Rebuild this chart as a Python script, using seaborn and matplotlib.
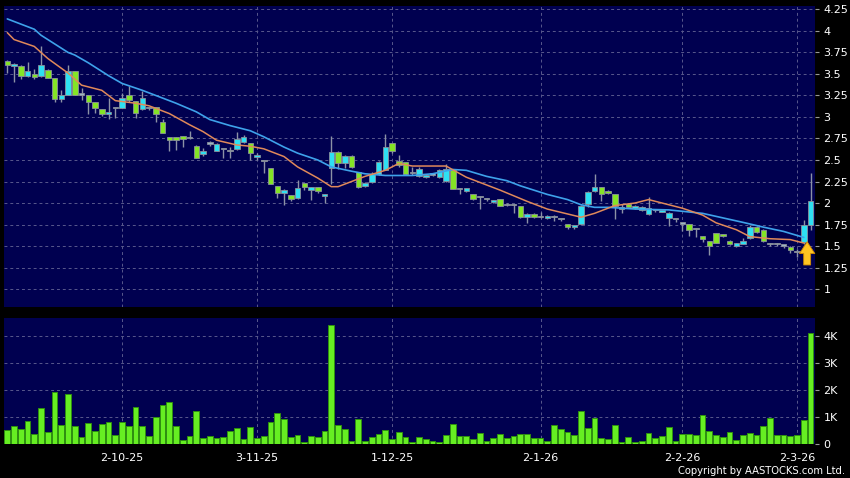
import numpy as np
import pandas as pd
import seaborn as sns
import matplotlib
matplotlib.use('Agg')
from matplotlib import pyplot as plt

# daily candles, oldest first (price in HKD, volume in thousands)
opens = [3.65, 3.59, 3.59, 3.48, 3.50, 3.475, 3.55, 3.45, 3.21, 3.26,
         3.53, 3.26, 3.26, 3.17, 3.09, 3.03, 3.10, 3.10, 3.25, 3.19,
         3.09, 3.10, 3.12, 2.94, 2.765, 2.765, 2.777, 2.75, 2.664, 2.575,
         2.69, 2.606, 2.625, 2.606, 2.625, 2.71, 2.70, 2.53, 2.49, 2.405,
         2.20, 2.12, 2.09, 2.06, 2.23, 2.15, 2.185, 2.08, 2.405, 2.59,
         2.46, 2.55, 2.36, 2.20, 2.24, 2.34, 2.386, 2.695, 2.49, 2.48,
         2.35, 2.31, 2.30, 2.33, 2.30, 2.26, 2.385, 2.165, 2.14, 2.10,
         2.065, 2.045, 2.01, 2.05, 1.98, 1.98, 1.97, 1.837, 1.875, 1.84,
         1.83, 1.84, 1.81, 1.755, 1.72, 1.76, 1.99, 2.14, 2.19, 2.14,
         2.10, 1.93, 1.99, 1.94, 1.92, 1.87, 1.92, 1.90, 1.825, 1.81,
         1.76, 1.755, 1.70, 1.617, 1.56, 1.65, 1.64, 1.56, 1.50, 1.525,
         1.59, 1.72, 1.69, 1.52, 1.52, 1.505, 1.49, 1.43, 1.545, 1.75]
closes = [3.61, 3.62, 3.48, 3.53, 3.47, 3.60, 3.45, 3.21, 3.26, 3.53,
          3.26, 3.26, 3.17, 3.11, 3.03, 3.055, 3.10, 3.22, 3.20, 3.05,
          3.22, 3.10, 3.03, 2.81, 2.73, 2.73, 2.742, 2.75, 2.525, 2.60,
          2.69, 2.687, 2.625, 2.606, 2.74, 2.765, 2.58, 2.555, 2.49, 2.22,
          2.12, 2.15, 2.045, 2.174, 2.185, 2.185, 2.135, 2.10, 2.59, 2.46,
          2.55, 2.415, 2.19, 2.23, 2.34, 2.48, 2.656, 2.60, 2.44, 2.34,
          2.35, 2.40, 2.33, 2.33, 2.38, 2.40, 2.165, 2.165, 2.17, 2.045,
          2.065, 2.045, 2.03, 1.97, 1.98, 1.98, 1.837, 1.875, 1.837, 1.84,
          1.855, 1.84, 1.81, 1.725, 1.74, 1.97, 2.13, 2.19, 2.11, 2.12,
          1.96, 1.95, 1.955, 1.97, 1.95, 1.94, 1.92, 1.915, 1.88, 1.81,
          1.76, 1.69, 1.70, 1.58, 1.495, 1.54, 1.616, 1.525, 1.535, 1.56,
          1.72, 1.66, 1.56, 1.52, 1.52, 1.505, 1.455, 1.43, 1.75, 2.025]
highs = [3.66, 3.63, 3.60, 3.64, 3.56, 3.82, 3.56, 3.45, 3.31, 3.60,
         3.54, 3.34, 3.26, 3.17, 3.09, 3.22, 3.10, 3.28, 3.36, 3.19,
         3.30, 3.12, 3.12, 2.98, 2.77, 2.77, 2.78, 2.84, 2.67, 2.64,
         2.72, 2.70, 2.63, 2.65, 2.82, 2.79, 2.70, 2.58, 2.49, 2.41,
         2.20, 2.16, 2.09, 2.27, 2.23, 2.19, 2.19, 2.10, 2.78, 2.60,
         2.56, 2.56, 2.36, 2.24, 2.36, 2.49, 2.80, 2.70, 2.56, 2.48,
         2.42, 2.42, 2.34, 2.35, 2.39, 2.45, 2.39, 2.18, 2.18, 2.11,
         2.08, 2.06, 2.04, 2.05, 2.00, 1.99, 1.97, 1.88, 1.88, 1.90,
         1.86, 1.86, 1.82, 1.76, 1.75, 1.98, 2.14, 2.34, 2.19, 2.15,
         2.10, 1.99, 2.00, 1.98, 1.96, 2.07, 1.93, 1.92, 1.89, 1.82,
         1.77, 1.76, 1.71, 1.62, 1.56, 1.65, 1.64, 1.57, 1.54, 1.59,
         1.75, 1.73, 1.70, 1.53, 1.53, 1.51, 1.50, 1.46, 1.80, 2.35]
lows = [3.51, 3.41, 3.445, 3.47, 3.445, 3.47, 3.45, 3.18, 3.17, 3.26,
        3.26, 3.20, 3.04, 3.05, 3.01, 2.98, 2.99, 3.10, 3.18, 2.985,
        3.08, 3.08, 2.94, 2.81, 2.60, 2.62, 2.65, 2.74, 2.52, 2.55,
        2.66, 2.60, 2.52, 2.52, 2.62, 2.70, 2.50, 2.50, 2.35, 2.22,
        2.06, 1.98, 2.02, 2.05, 2.15, 2.03, 2.12, 2.00, 2.22, 2.40,
        2.41, 2.41, 2.18, 2.19, 2.23, 2.33, 2.38, 2.58, 2.42, 2.33,
        2.33, 2.30, 2.29, 2.31, 2.29, 2.25, 2.16, 2.10, 2.13, 2.04,
        1.93, 2.02, 2.00, 1.96, 1.96, 1.88, 1.83, 1.77, 1.83, 1.83,
        1.82, 1.79, 1.79, 1.70, 1.70, 1.74, 1.95, 2.13, 2.02, 2.10,
        1.81, 1.88, 1.95, 1.93, 1.91, 1.86, 1.90, 1.89, 1.736, 1.78,
        1.68, 1.62, 1.60, 1.55, 1.40, 1.53, 1.60, 1.51, 1.49, 1.52,
        1.58, 1.65, 1.55, 1.50, 1.50, 1.48, 1.42, 1.37, 1.52, 1.69]
volume_k = [0.49, 0.64, 0.53, 0.82, 0.35, 1.31, 0.42, 1.90, 0.70, 1.85,
            0.64, 0.25, 0.77, 0.46, 0.74, 0.78, 0.31, 0.79, 0.64, 1.35,
            0.64, 0.26, 0.99, 1.43, 1.55, 0.64, 0.14, 0.28, 1.22, 0.21,
            0.27, 0.21, 0.23, 0.46, 0.56, 0.17, 0.61, 0.21, 0.28, 0.80,
            1.14, 0.90, 0.25, 0.31, 0.07, 0.26, 0.25, 0.48, 4.39, 0.69,
            0.52, 0.10, 0.91, 0.10, 0.23, 0.36, 0.51, 0.17, 0.41, 0.23,
            0.06, 0.25, 0.15, 0.09, 0.05, 0.32, 0.73, 0.26, 0.27, 0.16,
            0.40, 0.11, 0.20, 0.37, 0.21, 0.27, 0.37, 0.35, 0.21, 0.19,
            0.11, 0.68, 0.54, 0.42, 0.30, 1.19, 0.56, 0.94, 0.20, 0.16,
            0.69, 0.07, 0.25, 0.05, 0.11, 0.40, 0.20, 0.27, 0.62, 0.11,
            0.35, 0.35, 0.30, 1.05, 0.45, 0.30, 0.23, 0.42, 0.14, 0.32,
            0.40, 0.32, 0.64, 0.93, 0.31, 0.30, 0.27, 0.30, 0.87, 4.09]

# moving averages at these bar positions
ma_short_idx = [0, 1, 4, 6, 9, 11, 14, 16, 19, 21, 24, 27, 29, 31, 34, 36, 38,
                41, 43, 46, 48, 49, 51, 53, 56, 58, 60, 63, 65, 68, 73, 77, 80,
                85, 87, 89, 90, 93, 95, 98, 100, 103, 105, 108, 110, 113, 116, 118]
ma_short = [3.98, 3.90, 3.82, 3.68, 3.51, 3.37, 3.31, 3.19, 3.16, 3.13, 3.04,
            2.91, 2.83, 2.73, 2.675, 2.66, 2.63, 2.54, 2.42, 2.29, 2.19, 2.19,
            2.25, 2.31, 2.38, 2.46, 2.43, 2.43, 2.43, 2.30, 2.15, 2.02, 1.93,
            1.835, 1.88, 1.94, 1.97, 2.00, 2.04, 1.98, 1.94, 1.86, 1.77, 1.69,
            1.61, 1.585, 1.575, 1.535]
ma_long_idx = [0, 4, 5, 9, 10, 12, 15, 17, 20, 23, 25, 28, 30, 33, 36, 38, 41,
               43, 46, 48, 51, 53, 56, 60, 63, 66, 68, 71, 74, 76, 78, 80, 83,
               85, 87, 89, 93, 98, 103, 105, 109, 112, 115, 118]
ma_long = [4.14, 4.02, 3.95, 3.75, 3.72, 3.63, 3.48, 3.39, 3.31, 3.22, 3.16,
           3.06, 2.97, 2.90, 2.84, 2.77, 2.65, 2.58, 2.50, 2.42, 2.37, 2.34,
           2.32, 2.32, 2.34, 2.39, 2.38, 2.31, 2.26, 2.20, 2.15, 2.10, 2.04,
           1.98, 1.95, 1.95, 1.93, 1.92, 1.88, 1.845, 1.775, 1.72, 1.67, 1.60]

date_idx = [17, 37, 57, 79, 100, 117]
date_labels = ['2-10-25', '3-11-25', '1-12-25', '2-1-26', '2-2-26', '2-3-26']
price_ticks = [1, 1.25, 1.5, 1.75, 2, 2.25, 2.5, 2.75, 3, 3.25, 3.5, 3.75, 4, 4.25]
vol_ticks = [0, 1, 2, 3, 4]
vol_labels = ['0', '1K', '2K', '3K', '4K']
arrow_bar = 118.5
arrow_tip = 1.55
arrow_base = 1.28

sns.set_style('dark')
plt.rcParams['font.family'] = ['DejaVu Sans']

navy = '#000050'
grid_c = '#58588c'
up_c = '#2ee0f2'
down_c = '#84e426'
flat_c = '#9cb4c8'

df = pd.DataFrame({'open': opens, 'high': highs, 'low': lows,
                   'close': closes, 'vol': volume_k})
df['idx'] = np.arange(len(df))
df['bottom'] = df[['open', 'close']].min(axis=1)
df['height'] = (df['close'] - df['open']).abs().clip(lower=0.014)
df['color'] = np.where(df['close'] > df['open'], up_c,
                       np.where(df['close'] < df['open'], down_c, flat_c))

fig = plt.figure(figsize=(8.5, 4.78), dpi=100, facecolor='black')
ax = fig.add_axes([4 / 850, 1 - 306.7 / 478, 811 / 850, 300.7 / 478])
axv = fig.add_axes([4 / 850, 1 - 443.5 / 478, 811 / 850, 125.5 / 478])

for a in (ax, axv):
    a.set_facecolor(navy)
    for s in a.spines.values():
        s.set_visible(False)
    a.set_xlim(-0.49, 119.66)

# price panel
ax.vlines(df['idx'], df['low'], df['high'], color='#8c92a6', lw=1, zorder=2)
ax.bar(df['idx'], df['height'], bottom=df['bottom'], width=0.82,
       color=df['color'], edgecolor='#8a909a', linewidth=0.6, zorder=3)
sns.lineplot(x=ma_long_idx, y=ma_long, ax=ax, color='#3ea2ea', lw=1.2, zorder=4)
sns.lineplot(x=ma_short_idx, y=ma_short, ax=ax, color='#e0895a', lw=1.1, zorder=4)

ax.annotate('', xy=(arrow_bar, arrow_tip), xytext=(arrow_bar, arrow_base),
            arrowprops=dict(arrowstyle='simple,head_length=0.85,head_width=1.1,tail_width=0.5',
                            fc='#ffc522', ec='#d08a00', lw=0.6, shrinkA=0, shrinkB=0),
            zorder=5)

ax.set_ylim(0.795, 4.29)
ax.set_yticks(price_ticks, ['{:g}'.format(t) for t in price_ticks])
ax.set_xticks(date_idx)
ax.tick_params(axis='x', length=0, labelbottom=False)

# volume panel
sns.barplot(x=df['idx'], y=df['vol'], native_scale=True, ax=axv, color='#66ee22',
            saturation=1, edgecolor='#2f9010', linewidth=0.7, width=0.85,
            errorbar=None, zorder=3)
axv.set_xlim(-0.49, 119.66)
axv.set_ylim(0, 4.66)
axv.set_yticks(vol_ticks, vol_labels)
axv.set_xticks(date_idx, date_labels)

for a in (ax, axv):
    a.set_xlabel('')
    a.set_ylabel('')
    a.yaxis.tick_right()
    a.grid(True, color=grid_c, ls=(0, (3, 3)), lw=0.7)
    a.set_axisbelow(True)
    a.tick_params(axis='y', colors='#9a9a9a', labelcolor='white', length=3,
                  width=0.8, pad=3, labelsize=8)
axv.tick_params(axis='x', colors='#9a9a9a', labelcolor='white', length=4,
                width=0.8, pad=3, labelsize=8)

fig.text(845 / 850, 1 - 471.5 / 478, 'Copyright by AASTOCKS.com Ltd.', color='white',
         fontsize=7.2, ha='right', va='center')

fig.savefig('out.png', dpi=100, facecolor='black')
